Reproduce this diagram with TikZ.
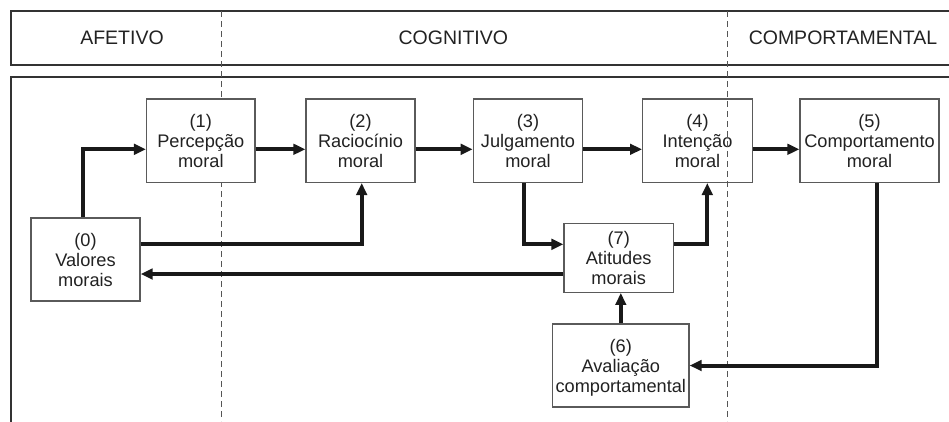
\documentclass[tikz,border=0pt]{standalone}
\usepackage{fontspec}
\setmainfont{Liberation Sans}
\usetikzlibrary{arrows.meta,calc}
\definecolor{ink}{HTML}{222222}
\definecolor{frame}{HTML}{333333}
\definecolor{boxline}{HTML}{5A5A5A}
\definecolor{dashline}{HTML}{555555}
\begin{document}
\begin{tikzpicture}[x=1pt,y=-1pt,
  stage/.style={draw=boxline, line width=1.3pt, fill=white, text=ink,
    align=center, inner sep=0pt, text depth=-1.5pt,
    font=\fontsize{18.2}{20}\selectfont},
  flow/.style={draw=black!90, line width=4pt, line join=miter,
    -{Triangle[length=12pt,width=10.5pt]}},
  heading/.style={text=ink, anchor=base, inner sep=0pt,
    font=\fontsize{19.5}{22}\selectfont},
  border/.style={draw=frame, line width=1.8pt},
  divider/.style={draw=dashline, line width=1.3pt, dash pattern=on 6pt off 4pt}]
\useasboundingbox (0,0) rectangle (949,421);

% header strip and lower frame (open to the right and bottom)
\draw[border] (950,11) -- (11,11) -- (11,65) -- (950,65);
\draw[border] (950,77) -- (11,77) -- (11,422);

% section dividers
\coordinate (d1t) at (221.7,11);
\coordinate (d1b) at (221.7,421);
\coordinate (d2t) at (727.7,11);
\coordinate (d2b) at (727.7,421);

% first divider runs behind the stage boxes
\draw[divider] (d1t) -- (d1b);

% section titles
\node[heading] (afetivo) at (122,44.5) {AFETIVO};
\node[heading] (cognitivo) at (453.3,44.5) {COGNITIVO};
\node[heading] (comport) at (843,44.5) {COMPORTAMENTAL};

% stages
\node[stage, minimum width=109pt, minimum height=83pt] (b0) at (85.5,259.5) {(0)\\Valores\\morais};
\node[stage, minimum width=108.5pt, minimum height=83.3pt] (b1) at (200.8,140.7) {(1)\\Percepção\\moral};
\node[stage, minimum width=109pt, minimum height=83.3pt] (b2) at (360.5,140.7) {(2)\\Raciocínio\\moral};
\node[stage, minimum width=109.4pt, minimum height=83.3pt] (b3) at (528,140.7) {(3)\\Julgamento\\moral};
\node[stage, minimum width=109.6pt, minimum height=83.3pt] (b4) at (697.5,140.7) {(4)\\Intenção\\moral};
\node[stage, minimum width=139pt, minimum height=83.3pt] (b5) at (869.5,140.7) {(5)\\Comportamento\\moral};
\node[stage, minimum width=109.3pt, minimum height=69pt] (b7) at (618.7,257.8) {(7)\\Atitudes\\morais};
\node[stage, minimum width=136.3pt, minimum height=83pt] (b6) at (620.8,365.5) {(6)\\Avaliação\\comportamental};

% second divider is drawn over the boxes
\draw[divider] (d2t) -- (d2b);

% main sequence
\draw[flow] ([xshift=-2.2pt]b0.north) |- ([yshift=-8.6pt]b1.west);
\draw[flow] ([yshift=-8.6pt]b1.east) -- ([yshift=-8.6pt]b2.west);
\draw[flow] ([yshift=-8.6pt]b2.east) -- ([yshift=-8.6pt]b3.west);
\draw[flow] ([yshift=-8.6pt]b3.east) -- ([yshift=-8.6pt]b4.west);
\draw[flow] ([yshift=-8.6pt]b4.east) -- ([yshift=-8.6pt]b5.west);

% feedback and side links
\draw[flow] ([yshift=15.2pt]b0.east) -| ([xshift=1.2pt]b2.south);
\draw[flow] ([yshift=-16.2pt]b7.west) -- ([yshift=-16.2pt]b7.west -| b0.east);
\draw[flow] ([xshift=-4pt]b3.south) |- ([yshift=13.5pt]b7.west);
\draw[flow] ([yshift=13.5pt]b7.east) -| ([xshift=9.8pt]b4.south);
\draw[flow] ([xshift=7.2pt]b5.south) |- (b6.east);
\draw[flow] (b6.north) -- (b6.north |- b7.south);
\end{tikzpicture}
\end{document}
